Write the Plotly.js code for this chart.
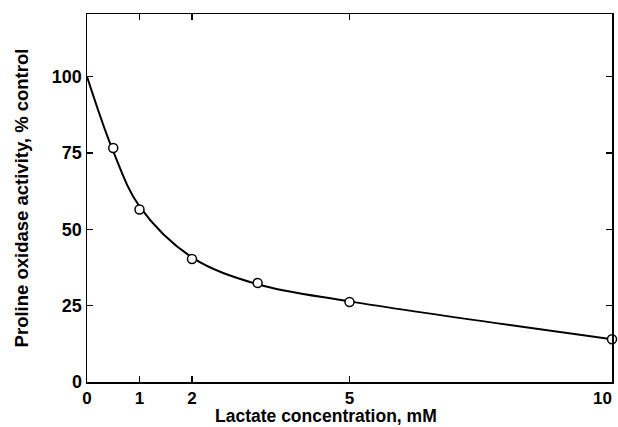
<!DOCTYPE html>
<html>
<head>
<meta charset="utf-8">
<script src="https://cdn.plot.ly/plotly-3.0.1.min.js"></script>
<style>html,body{margin:0;padding:0;background:#fff;}#chart{width:618px;height:427px;}</style>
</head>
<body>
<div id="chart"></div>
<script>
// Measured points (lactate mM, % control)
var lactate = [0.5, 1, 2, 3.25, 5, 10];
var activity = [76.6, 56.5, 40.3, 32.4, 26.2, 14.0];
// Fitted curve as drawn
var curveX = [0, 0.5, 1, 2, 3.25, 5, 10];
var curveY = [100, 75.5, 57.5, 40.8, 32.0, 26.4, 14.0];
var xTicks = [0, 1, 2, 5, 10];
var xTickText = ['0', '1', '2', '5', ''];   // "10" placed as an annotation so it is not clipped at the edge
var lastXTickLabel = '10';
var yTicks = [0, 25, 50, 75, 100];
var xTitle = 'Lactate concentration, mM';
var yTitle = 'Proline oxidase activity, % control';

var fam = 'Liberation Sans, Arial, Helvetica, sans-serif';
var tickFont = {family: fam, size: 18, color: '#000', weight: 'bold'};
var xTickFont = {family: fam, size: 17, color: '#000', weight: 'bold'};

var traces = [
  {x: curveX, y: curveY, mode: 'lines', line: {color: '#000', width: 2, shape: 'spline', smoothing: 1}, cliponaxis: false, hoverinfo: 'skip'},
  {x: lactate, y: activity, mode: 'markers', marker: {symbol: 'circle', size: 9, color: '#fff', line: {color: '#000', width: 1.5}}, cliponaxis: false}
];

var layout = {
  width: 618, height: 427,
  margin: {l: 87, r: 6, t: 14, b: 45},
  paper_bgcolor: '#fff', plot_bgcolor: '#fff',
  showlegend: false,
  xaxis: {
    range: [0, 10], tickvals: xTicks, ticktext: xTickText,
    showline: true, linecolor: '#000', linewidth: 1.5, mirror: 'ticks',
    ticks: 'inside', ticklen: 6, tickwidth: 1.5, tickcolor: '#000',
    showgrid: false, zeroline: false, tickfont: xTickFont
  },
  yaxis: {
    range: [0, 120.5], tickvals: yTicks, ticktext: yTicks.map(String),
    showline: true, linecolor: '#000', linewidth: 1.5, mirror: 'ticks',
    ticks: 'inside', ticklen: 6, tickwidth: 1.5, tickcolor: '#000',
    showgrid: false, zeroline: false, tickfont: tickFont,
    title: {text: yTitle, font: {family: fam, size: 18.5, color: '#000', weight: 'bold'}, standoff: 18}
  },
  annotations: [
    {x: 10, xref: 'x', y: 0, yref: 'paper', text: lastXTickLabel, showarrow: false, borderpad: 0,
     xanchor: 'right', yanchor: 'top', yshift: -6, xshift: 1, font: xTickFont},
    {x: 0.455, xref: 'paper', y: 0, yref: 'paper', text: xTitle, showarrow: false, borderpad: 0,
     xanchor: 'center', yanchor: 'bottom', yshift: -45, font: {family: fam, size: 17.5, color: '#000', weight: 'bold'}}
  ]
};

Plotly.newPlot('chart', traces, layout, {staticPlot: true, displayModeBar: false});
</script>
</body>
</html>
